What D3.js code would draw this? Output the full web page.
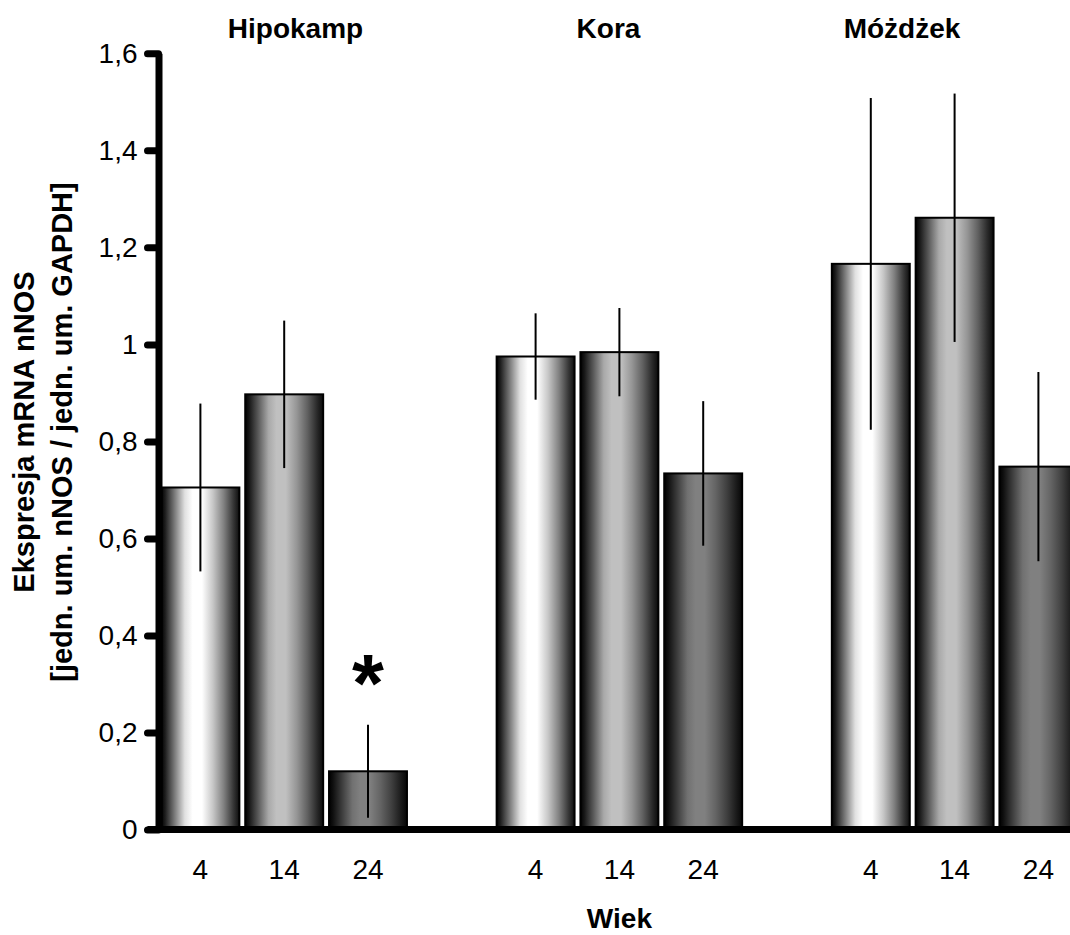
<!DOCTYPE html>
<html>
<head>
<meta charset="utf-8">
<script src="https://cdn.jsdelivr.net/npm/d3@7/dist/d3.min.js"></script>
<style>
  html, body { margin: 0; padding: 0; background: #fff; }
  svg { display: block; font-family: "Liberation Sans", Arial, sans-serif; }
</style>
</head>
<body>
<svg id="chart" width="1070" height="935"></svg>
<script>
// Brain regions and animal ages (months)
const groups = ["Hipokamp", "Kora", "Móżdżek"];
const ages = ["4", "14", "24"];

// nNOS mRNA expression (mean and SD) per region, ordered by age
const hipokampMean = [0.705, 0.897, 0.120];
const hipokampErr  = [0.173, 0.152, 0.096];
const koraMean     = [0.975, 0.984, 0.734];
const koraErr      = [0.089, 0.091, 0.149];
const mozdzekMean  = [1.166, 1.261, 0.748];
const mozdzekErr   = [0.342, 0.256, 0.195];

// Statistically significant bars (region, age)
const significant = [["Hipokamp", "24"]];

// Y axis ticks
const yTicks = [0, 0.2, 0.4, 0.6, 0.8, 1.0, 1.2, 1.4, 1.6];

const rows = [];
[[hipokampMean, hipokampErr], [koraMean, koraErr], [mozdzekMean, mozdzekErr]]
  .forEach(([m, e], gi) => ages.forEach((a, ai) =>
    rows.push({ group: groups[gi], age: a, mean: m[ai], err: e[ai] })));

// ---- layout & style ----
const W = 1070, H = 935;
const axisX = 158.5;
const slot = 83.8;                 // width of one category slot
const fontMain = 28;
const seriesColors = { "4": "#ffffff", "14": "#c0c0c0", "24": "#808080" };
const titleX = { "Hipokamp": 295.5, "Kora": 608.5, "Móżdżek": 902 };

const svg = d3.select("#chart");

const y = d3.scaleLinear().domain([0, 1.6]).range([829.5, 53.3]);

// Each region takes four slots: three bars and one empty gap slot
const x0 = d3.scaleBand().domain(groups)
  .range([axisX, axisX + groups.length * 4 * slot]).paddingInner(0).paddingOuter(0);
const x1 = d3.scaleBand().domain(ages)
  .range([0, 3 * slot]).paddingInner(0.07).paddingOuter(0.035);

// Cylindrical horizontal shading: dark edges, light band left of centre
const profile = [[0, 0.0], [0.05, 0.12], [0.16, 0.45], [0.30, 0.88], [0.40, 1], [0.52, 1],
                 [0.66, 0.78], [0.80, 0.5], [0.92, 0.22], [1, 0.05]];
const defs = svg.append("defs");
ages.forEach(a => {
  const g = defs.append("linearGradient").attr("id", "grad" + a)
    .attr("x1", "0%").attr("x2", "100%").attr("y1", "0%").attr("y2", "0%");
  const mix = d3.interpolateRgb("#000000", seriesColors[a]);
  profile.forEach(([o, f]) => g.append("stop")
    .attr("offset", (o * 100) + "%").attr("stop-color", mix(f)));
});

const plot = svg.append("g");

// Bars
plot.selectAll("rect.bar").data(rows).join("rect")
  .attr("class", "bar")
  .attr("x", d => x0(d.group) + x1(d.age))
  .attr("y", d => y(d.mean))
  .attr("width", x1.bandwidth())
  .attr("height", d => y(0) - y(d.mean))
  .attr("fill", d => `url(#grad${d.age})`)
  .attr("stroke", "#000").attr("stroke-width", 2);

// Error bars (no caps)
plot.selectAll("line.err").data(rows).join("line")
  .attr("class", "err")
  .attr("x1", d => x0(d.group) + x1(d.age) + x1.bandwidth() / 2)
  .attr("x2", d => x0(d.group) + x1(d.age) + x1.bandwidth() / 2)
  .attr("y1", d => y(d.mean + d.err))
  .attr("y2", d => y(Math.max(0, d.mean - d.err)))
  .attr("stroke", "#000").attr("stroke-width", 2);

// Significance asterisk
const starSize = 82;
plot.selectAll("text.star").data(significant.map(([g, a]) => rows.find(r => r.group === g && r.age === a)))
  .join("text").attr("class", "star")
  .attr("x", d => x0(d.group) + x1(d.age) + x1.bandwidth() / 2)
  .attr("y", d => y(d.mean + d.err) - 46 + 0.39 * starSize)
  .attr("text-anchor", "middle")
  .attr("font-size", starSize).attr("font-weight", "bold")
  .text("*");

// Baseline (category axis line)
svg.append("line")
  .attr("x1", axisX - 11).attr("x2", W)
  .attr("y1", y(0)).attr("y2", y(0))
  .attr("stroke", "#000").attr("stroke-width", 7);

// Y axis
const fmt = d3.formatLocale({ decimal: ",", thousands: " ", grouping: [3], currency: ["", ""] }).format("~g");
const yAxis = svg.append("g").attr("transform", `translate(${axisX},0)`)
  .call(d3.axisLeft(y).tickValues(yTicks).tickFormat(fmt).tickSize(11).tickSizeOuter(0).tickPadding(10));
yAxis.select(".domain").attr("stroke", "#000").attr("stroke-width", 7);
yAxis.selectAll(".tick line").attr("stroke", "#000").attr("stroke-width", 7).attr("stroke-linecap", "round");
yAxis.selectAll(".tick text").attr("font-size", fontMain).attr("fill", "#000")
  .attr("font-family", "'Liberation Sans', Arial, sans-serif");

// Age labels under each region
groups.forEach(g => {
  const ax = svg.append("g").attr("transform", `translate(${x0(g)},${y(0)})`)
    .call(d3.axisBottom(x1).tickSize(0).tickPadding(30));
  ax.select(".domain").remove();
  ax.selectAll(".tick text").attr("font-size", fontMain).attr("fill", "#000")
    .attr("font-family", "'Liberation Sans', Arial, sans-serif");
});

// Region titles
svg.selectAll("text.title").data(groups).join("text")
  .attr("class", "title")
  .attr("x", d => titleX[d]).attr("y", 38)
  .attr("text-anchor", "middle")
  .attr("font-size", fontMain).attr("font-weight", "bold")
  .text(d => d);

// X axis title
svg.append("text")
  .attr("x", x0("Kora") + x1("14") + x1.bandwidth() / 2).attr("y", 928)
  .attr("text-anchor", "middle")
  .attr("font-size", fontMain).attr("font-weight", "bold")
  .text("Wiek");

// Y axis title (two lines)
const yTitle = svg.append("text")
  .attr("transform", "translate(0,432) rotate(-90)")
  .attr("text-anchor", "middle")
  .attr("font-size", 29).attr("font-weight", "bold");
yTitle.append("tspan").attr("x", 0).attr("y", 34).text("Ekspresja mRNA nNOS");
yTitle.append("tspan").attr("x", 0).attr("y", 72).text("[jedn. um. nNOS / jedn. um. GAPDH]");
</script>
</body>
</html>
